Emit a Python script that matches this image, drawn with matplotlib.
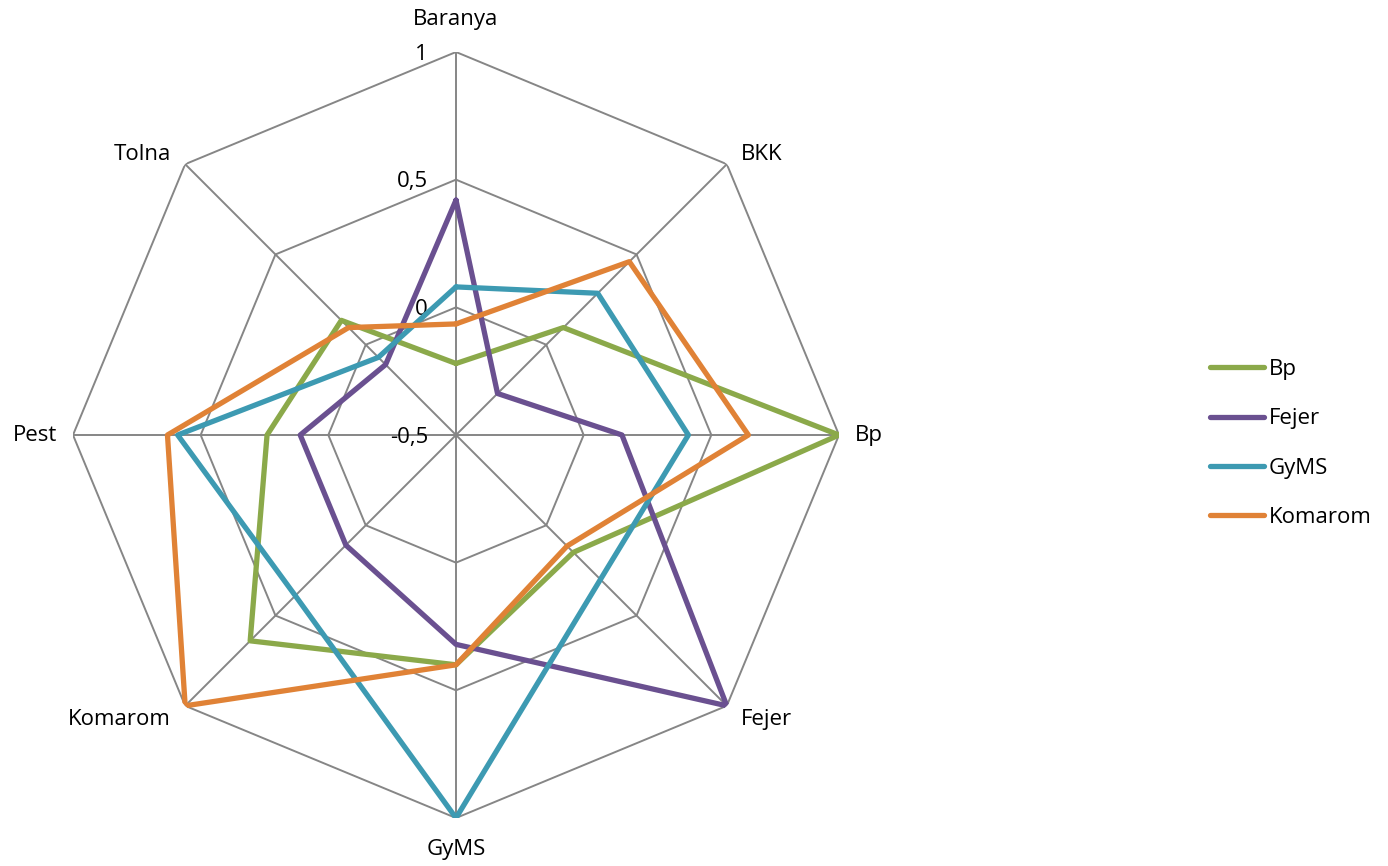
import numpy as np
import matplotlib
matplotlib.use("Agg")
import matplotlib.pyplot as plt

categories = ["Baranya", "BKK", "Bp", "Fejer", "GyMS", "Komarom", "Pest", "Tolna"]
bp = [-0.22, 0.095, 1.0, 0.15, 0.40, 0.64, 0.24, 0.135]
fejer = [0.42, -0.27, 0.15, 1.0, 0.32, 0.11, 0.11, -0.11]
gyms = [0.08, 0.285, 0.41, 0.30, 1.0, 0.39, 0.59, -0.07]
komarom = [-0.065, 0.46, 0.645, 0.115, 0.40, 1.0, 0.63, 0.095]
series = [("Bp", bp, "#8BA94A"), ("Fejer", fejer, "#6A5090"),
          ("GyMS", gyms, "#3D9AB2"), ("Komarom", komarom, "#E08236")]
rticks = [-0.5, 0, 0.5, 1]
rtick_labels = ["-0,5", "0", "0,5", "1"]

plt.rcParams['font.family'] = ['Open Sans', 'DejaVu Sans']
fs = 16

fig = plt.figure(figsize=(13.88, 8.66), dpi=100)
ax = fig.add_axes([73/1388, 48/866, 766/1388, 766/866], projection='polar')
ax.set_theta_zero_location('N')
ax.set_theta_direction(-1)
ax.set_ylim(-0.5, 1)
ax.grid(False)
ax.spines['polar'].set_visible(False)
ax.set_xticks([])
ax.set_yticks([])

n = len(categories)
theta = np.arange(n) * 2 * np.pi / n
theta_closed = np.append(theta, theta[0])

grid_c = "#868686"
for r in rticks[1:]:
    ax.plot(theta_closed, [r] * (n + 1), color=grid_c, lw=1.4, zorder=1)
for t in theta:
    ax.plot([t, t], [-0.5, 1], color=grid_c, lw=1.4, zorder=1)

for r, lab in zip(rticks, rtick_labels):
    ax.annotate(lab, (0, r), xytext=(-28, -2), textcoords='offset pixels',
                ha='right', va='center', fontsize=fs)

# category labels
offs = [(0, 32, 'center'), (14, 10, 'left'), (16, 0, 'left'), (14, -14, 'left'),
        (0, -32, 'center'), (-14, -14, 'right'), (-16, 0, 'right'), (-14, 10, 'right')]
for t, lab, (dx, dy, ha) in zip(theta, categories, offs):
    ax.annotate(lab, (t, 1), xytext=(dx, dy), textcoords='offset pixels',
                ha=ha, va='center', fontsize=fs, annotation_clip=False)

handles = []
for name, vals, col in series:
    h, = ax.plot(theta_closed, vals + [vals[0]], color=col, lw=3.8,
                 solid_joinstyle='round', solid_capstyle='round', label=name, zorder=3)
    handles.append(h)

fig.legend(handles=handles, loc='center left', bbox_to_anchor=(1210/1388, 0.488),
           frameon=False, fontsize=fs, handlelength=2.43, handletextpad=0.23,
           labelspacing=1.27, borderpad=0, borderaxespad=0)

fig.savefig("out.png", dpi=100)
